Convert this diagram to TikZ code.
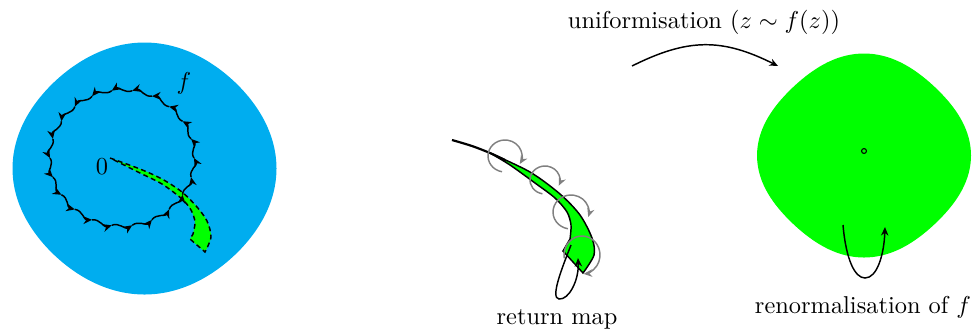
\documentclass[tikz,border=0pt]{standalone}
\usetikzlibrary{arrows.meta}
\definecolor{blobblue}{RGB}{0,173,239}
\definecolor{blobgreen}{RGB}{0,255,0}
\begin{document}
\begin{tikzpicture}[x=0.41pt,y=-0.41pt,
  >={Stealth[length=3.5pt,width=3pt]},
  curve/.style={semithick},
  wavearrow/.style={semithick,->,>={Stealth[length=3.6pt,width=3.2pt]}},
  loopgray/.style={semithick,gray,->},
  dashedge/.style={semithick,dash pattern=on 2pt off 1.4pt},
  lbl/.style={inner sep=0pt}]
\useasboundingbox (0,0) rectangle (972,329);

% blue domain
\fill[blobblue] plot[smooth cycle, samples=72, domain=0:355, variable=\t]
  ({144.5+(130+2*cos(4*\t))*cos(\t)}, {168.5+(124+2*cos(4*\t))*sin(\t)});

% left green petal
\coordinate (o) at (110,158);
\draw[dashedge,fill=blobgreen] plot[smooth] coordinates {(110,158) (140,169) (162,179) (182,192) (197,207) (207,221) (211,237) (205,252)} -- (190,239) -- plot[smooth] coordinates {(193,234) (195,222) (191,210) (182,199) (162,184) (140,173) (110,158)} -- cycle;

% wavy circle of arrows
\begin{scope}[shift={(122,158)},yscale=0.944]
\foreach \i in {0,...,21} {
  \pgfmathsetmacro\a{\i*360/22}
  \pgfmathsetmacro\b{\a-360/66}
  \pgfmathsetmacro\c{\a-720/66}
  \pgfmathsetmacro\d{\a-360/22}
  \draw[wavearrow] (\a:72) .. controls (\b:68) and (\c:76) .. (\d:72);
}
\end{scope}

\node[lbl] (lbl0) at (102,167) {$0$};
\node[lbl] (lblf) at (184,83) {$f$};

% middle: band with return map
\draw[line width=0.9pt] plot[smooth] coordinates {(452,140) (472,146) (490,153) (505,160)};
\draw[semithick,fill=blobgreen] plot[smooth] coordinates {(490,153) (530,172) (560,194) (580,215) (592,238) (594,255) (583,273)} -- (563,251) -- plot[smooth] coordinates {(570,239) (571,225) (567,212) (555,198) (535,183) (510,165) (490,153)} -- cycle;

\draw[loopgray] (505,156) ++(100:17 and 16) arc[start angle=100, end angle=390, x radius=17, y radius=16];
\draw[loopgray] (545,180) ++(100:15 and 14) arc[start angle=100, end angle=384, x radius=15, y radius=14];
\draw[loopgray] (571,212) ++(100:18 and 17) arc[start angle=100, end angle=377, x radius=18, y radius=17];
\draw[loopgray] (582,255) ++(170:18 and 19) arc[start angle=170, end angle=445, x radius=18, y radius=19];

\coordinate (m1) at (571,245);
\coordinate (m2) at (578,258);
\draw[curve,->] (m1) .. controls (562,268) and (550,298) .. (559,299) .. controls (569,300) and (579,280) .. (m2);
\node[lbl] (lblret) at (557,319) {return map};

% uniformisation arrow
\coordinate (u1) at (632,66);
\coordinate (u2) at (778,66);
\draw[curve,->] (u1) .. controls (688,38) and (722,38) .. (u2);
\node[lbl] (lbluni) at (704,22) {uniformisation ($z\sim f(z)$)};

% right green domain
\fill[blobgreen] plot[smooth cycle, samples=72, domain=0:355, variable=\t]
  ({864+(104+3*cos(4*\t))*cos(\t)}, {155.5+(99+3*cos(4*\t))*sin(\t)});
\node[draw,circle,inner sep=0pt,minimum size=2pt,line width=0.45pt] (c0) at (864,151) {};

\coordinate (r1) at (843,225);
\coordinate (r2) at (885,227);
\draw[curve,->] (r1) .. controls (846,260) and (855,278) .. (865,278) .. controls (877,278) and (884,255) .. (r2);
\node[lbl] (lblren) at (863,307) {renormalisation of $f$};
\end{tikzpicture}
\end{document}
